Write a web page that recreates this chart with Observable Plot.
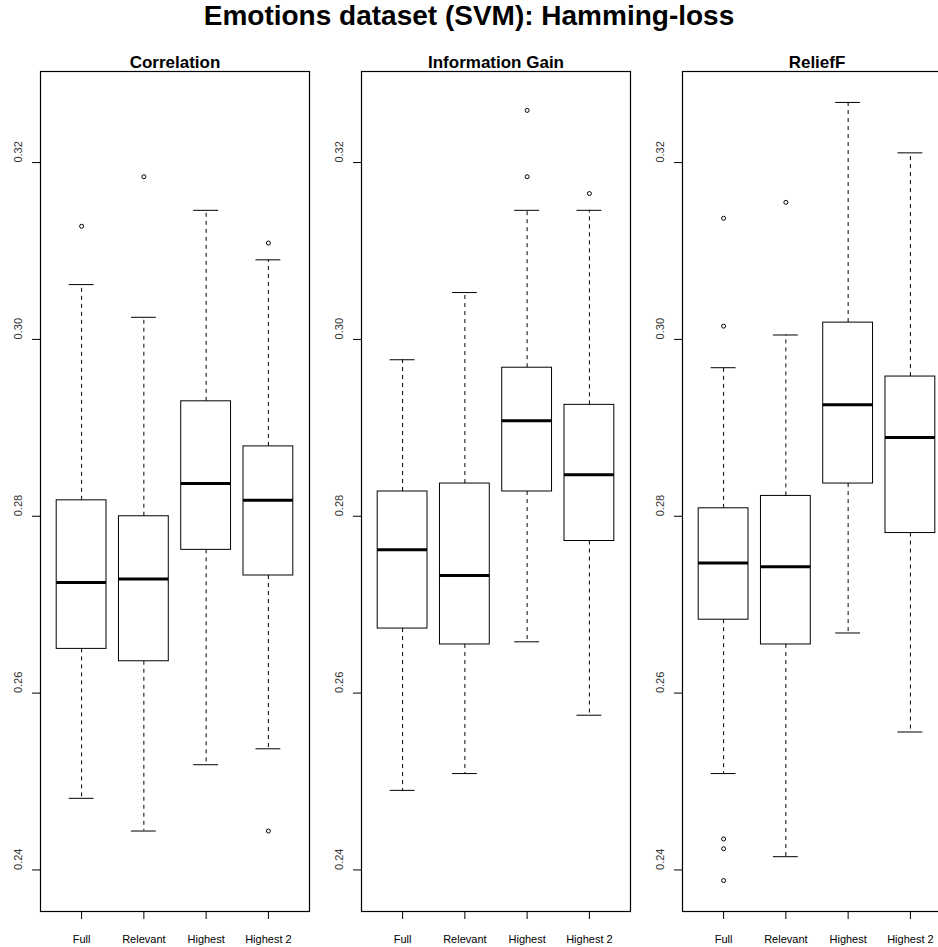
<!DOCTYPE html>
<html>
<head>
<meta charset="utf-8">
<script src="https://cdn.jsdelivr.net/npm/d3@7"></script>
<script src="https://cdn.jsdelivr.net/npm/@observablehq/plot@0.6"></script>
<style>
  html, body { margin: 0; padding: 0; background: #fff; overflow: hidden; }
  #wrap { position: relative; width: 963px; height: 947px; }
  #title { position: absolute; left: 0; top: 0; width: 938px; height: 40px; line-height: 40px;
           text-align: center; font: bold 28px "Liberation Sans", Arial, sans-serif; color: #000; }
  .panel { position: absolute; top: 40px; }
</style>
</head>
<body>
<div id="wrap">
  <div id="title">Emotions dataset (SVM): Hamming-loss</div>
</div>
<script>
const categories = ["Full", "Relevant", "Highest", "Highest 2"];
const methods = ["Correlation", "Information Gain", "ReliefF"];
const yTicks = [0.24, 0.26, 0.28, 0.30, 0.32];

// per method, per category
const lowerWhisker = [
  [0.2481, 0.2444, 0.2519, 0.2537],
  [0.2490, 0.2509, 0.2658, 0.2575],
  [0.2509, 0.2415, 0.2668, 0.2556]
];
const q1 = [
  [0.2650, 0.2636, 0.2762, 0.2733],
  [0.2673, 0.2655, 0.2828, 0.2772],
  [0.2683, 0.2655, 0.2837, 0.2781]
];
const median = [
  [0.2725, 0.2729, 0.2837, 0.2818],
  [0.2762, 0.2733, 0.2908, 0.2847],
  [0.2747, 0.2743, 0.2926, 0.2889]
];
const q3 = [
  [0.2818, 0.2800, 0.2930, 0.2879],
  [0.2828, 0.2837, 0.2968, 0.2926],
  [0.2809, 0.2823, 0.3019, 0.2958]
];
const upperWhisker = [
  [0.3062, 0.3025, 0.3146, 0.3090],
  [0.2977, 0.3053, 0.3146, 0.3146],
  [0.2968, 0.3005, 0.3268, 0.3211]
];
const outliers = [
  [[0.3128], [0.3184], [], [0.3109, 0.2444]],
  [[], [], [0.3259, 0.3184], [0.3165]],
  [[0.3137, 0.3015, 0.2435, 0.2424, 0.2388], [0.3155], [], []]
];

const font = '"Liberation Sans", Arial, sans-serif';
const wrap = document.getElementById("wrap");

methods.forEach((m, p) => {
  const rows = categories.map((c, i) => ({
    cat: c, pos: i + 1,
    lo: lowerWhisker[p][i], q1: q1[p][i], med: median[p][i], q3: q3[p][i], hi: upperWhisker[p][i]
  }));
  const outs = [];
  categories.forEach((c, i) => outliers[p][i].forEach(v => outs.push({pos: i + 1, v})));

  const chart = Plot.plot({
    width: 321,
    height: 907,
    marginTop: 31,
    marginBottom: 36,
    marginLeft: 40,
    marginRight: 12,
    x: {domain: [0.34, 4.66]},
    y: {domain: [0.2353, 0.3303]},
    style: {fontFamily: font, background: "white", color: "black"},
    marks: [
      Plot.ruleX(rows, {x: "pos", y1: "q3", y2: "hi", stroke: "black", strokeDasharray: "4,4"}),
      Plot.ruleX(rows, {x: "pos", y1: "q1", y2: "lo", stroke: "black", strokeDasharray: "4,4"}),
      Plot.ruleY(rows, {y: "hi", x1: d => d.pos - 0.2, x2: d => d.pos + 0.2, stroke: "black"}),
      Plot.ruleY(rows, {y: "lo", x1: d => d.pos - 0.2, x2: d => d.pos + 0.2, stroke: "black"}),
      Plot.rect(rows, {x1: d => d.pos - 0.4, x2: d => d.pos + 0.4, y1: "q1", y2: "q3", fill: "white", stroke: "black", strokeWidth: 1}),
      Plot.ruleY(rows, {y: "med", x1: d => d.pos - 0.4, x2: d => d.pos + 0.4, stroke: "black", strokeWidth: 3}),
      Plot.dot(outs, {x: "pos", y: "v", r: 2, stroke: "black", strokeWidth: 1, fill: "none"}),
      Plot.frame({stroke: "black", strokeWidth: 1.2}),
      Plot.axisY({ticks: yTicks, tickSize: 8, tickFormat: () => "", label: null}),
      Plot.text(yTicks, {y: d => d, text: d => d.toFixed(2), frameAnchor: "left", dx: -22, rotate: -90, fontSize: 11, fill: "#333"}),
      Plot.axisX({ticks: [1, 2, 3, 4], tickSize: 8, tickPadding: 15.5, tickFormat: d => categories[d - 1], fontSize: 11, label: null}),
      Plot.text([m], {frameAnchor: "top", dy: -16, text: d => d, fontSize: 17, fontWeight: "bold", fill: "black"})
    ]
  });
  chart.classList.add("panel");
  chart.style.left = (p * 321) + "px";
  wrap.appendChild(chart);
});
</script>
</body>
</html>
